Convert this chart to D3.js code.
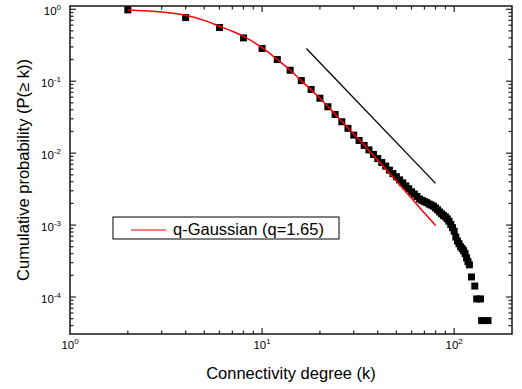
<!DOCTYPE html>
<html lang="en">

<head>
    <script src="https://d3js.org/d3.v7.min.js"></script>
    <style>
        body {
            margin: 0;
            background: white;
        }

        text {
            font-family: "Liberation Sans", Arial, sans-serif;
            fill: black;
        }
    </style>
</head>

<body>
    <svg id="chart" width="522" height="389"></svg>

    <script>
        // degree values and cumulative probabilities
        const kVals = [2, 4, 6, 8, 10, 12, 14, 16, 18, 20, 22, 24, 26, 28, 30, 32, 34, 36, 38, 40,
            42, 44, 46, 48, 50, 52, 54, 56, 58, 60, 62, 64, 66, 68, 70, 72, 74, 76, 78, 80,
            82, 84, 86, 88, 90, 92, 94, 96, 98, 100, 102, 104, 106, 108, 110, 112, 114, 116, 118, 120,
            123, 128, 131, 137, 139, 150];
        const pVals = [0.98, 0.767, 0.557, 0.40, 0.285, 0.20, 0.142, 0.102, 0.0767, 0.058,
            0.0441, 0.0345, 0.0273, 0.0221, 0.0178, 0.0150, 0.0128, 0.0111, 0.0096, 0.0084,
            0.0074, 0.0066, 0.0058, 0.0052, 0.0047, 0.00425, 0.00386, 0.0035, 0.0032, 0.0029,
            0.0027, 0.0025, 0.0023, 0.0022, 0.00212, 0.00205, 0.00196, 0.0019, 0.00183, 0.00173,
            0.00163, 0.00152, 0.00143, 0.00136, 0.0013, 0.00122, 0.00113, 0.00102, 0.00092, 0.00082,
            0.00068, 0.0006, 0.00055, 0.0005, 0.00047, 0.00044, 0.0004, 0.00035, 0.00031, 0.00028,
            0.00019, 0.000142, 0.000094, 0.000094, 0.000047, 0.000047];

        // q-Gaussian fit, sampled off the red curve
        const fitK = [2, 3, 4, 5, 6, 7, 8, 10, 12, 14, 16, 20, 25, 30, 35, 40, 50, 60, 70, 80];
        const fitP = [0.98, 0.917, 0.825, 0.70, 0.58, 0.495, 0.42, 0.293, 0.20, 0.142, 0.102,
            0.058, 0.031, 0.0185, 0.0119, 0.0080, 0.0041, 0.00236, 0.00147, 0.00099];

        // black guide line (power-law slope)
        const guideK = [17, 80];
        const guideP = [0.285, 0.0038];

        const xMajor = [1, 10, 100];
        const xExp = ["0", "1", "2"];
        const yMajor = [1e-4, 1e-3, 1e-2, 1e-1, 1];
        const yExp = ["-4", "-3", "-2", "-1", "0"];

        const svg = d3.select("svg#chart");
        const margins = { top: 6, right: 10, bottom: 55, left: 70 };
        const width = +svg.attr("width");
        const height = +svg.attr("height");
        const plotW = width - margins.left - margins.right;
        const plotH = height - margins.top - margins.bottom;

        const x = d3.scaleLog().domain([1, 200]).range([0, plotW]);
        const y = d3.scaleLog().domain([3.06e-5, 1.11]).range([plotH, 0]);

        const g = svg.append("g")
            .attr("transform", `translate(${margins.left},${margins.top})`);

        // minor tick values
        let xMinor = [];
        [1, 10, 100].forEach(d => {
            for (let i = 2; i <= 9; i++) {
                if (d * i < 200) xMinor.push(d * i);
            }
        });
        let yMinor = [];
        [1e-5, 1e-4, 1e-3, 1e-2, 1e-1].forEach(d => {
            for (let i = 2; i <= 9; i++) {
                if (d * i > 3.3e-5) yMinor.push(d * i);
            }
        });

        const majorLen = 6;
        const minorLen = 3.5;

        function drawTicks(sel, vals, len, side) {
            sel.selectAll(null)
                .data(vals)
                .join("line")
                .attr("x1", d => side == "bottom" || side == "top" ? x(d) : (side == "left" ? 0 : plotW))
                .attr("x2", d => side == "bottom" || side == "top" ? x(d) : (side == "left" ? len : plotW - len))
                .attr("y1", d => side == "left" || side == "right" ? y(d) : (side == "bottom" ? plotH : 0))
                .attr("y2", d => side == "left" || side == "right" ? y(d) : (side == "bottom" ? plotH - len : len))
                .attr("stroke", "#222")
                .attr("stroke-width", 1.2);
        }

        let ticks = g.append("g").attr("class", "ticks");
        ["bottom", "top"].forEach(s => {
            drawTicks(ticks, xMajor.filter(d => d > 1), majorLen, s);
            drawTicks(ticks, xMinor, minorLen, s);
        });
        ["left", "right"].forEach(s => {
            drawTicks(ticks, yMajor.filter(d => d < 1.05), majorLen, s);
            drawTicks(ticks, yMinor, minorLen, s);
        });

        // frame
        g.append("rect")
            .attr("x", 0)
            .attr("y", 0)
            .attr("width", plotW)
            .attr("height", plotH)
            .attr("fill", "none")
            .attr("stroke", "#222")
            .attr("stroke-width", 1.6);

        // tick labels
        xMajor.forEach((d, i) => {
            let t = g.append("text")
                .attr("x", x(d))
                .attr("y", plotH + 15)
                .attr("text-anchor", "middle")
                .style("font-size", "11.5px");
            t.append("tspan").text("10");
            t.append("tspan").attr("dy", -5).style("font-size", "8px").text(xExp[i]);
        });

        yMajor.forEach((d, i) => {
            let t = g.append("text")
                .attr("x", -9)
                .attr("y", y(d) + 6)
                .attr("text-anchor", "end")
                .style("font-size", "11.5px");
            t.append("tspan").text("10");
            t.append("tspan").attr("dy", -5).style("font-size", "8px").text(yExp[i]);
        });

        // axis titles
        g.append("text")
            .attr("x", plotW / 2)
            .attr("y", plotH + 45)
            .attr("text-anchor", "middle")
            .style("font-size", "16.5px")
            .text("Connectivity degree (k)");

        g.append("text")
            .attr("transform", `translate(${29 - margins.left},${plotH / 2}) rotate(-90)`)
            .attr("text-anchor", "middle")
            .style("font-size", "16.5px")
            .text("Cumulative probability (P(\u2265 k))");

        // data
        const pts = kVals.map((k, i) => ({ k: k, p: pVals[i] }));
        const sq = 7;
        g.selectAll("rect.point")
            .data(pts)
            .join("rect")
            .attr("class", "point")
            .attr("x", d => x(d.k) - sq / 2)
            .attr("y", d => y(d.p) - sq / 2)
            .attr("width", sq)
            .attr("height", sq)
            .attr("fill", "black");

        const line = d3.line()
            .x(d => x(d.k))
            .y(d => y(d.p));

        const fit = fitK.map((k, i) => ({ k: k, p: fitP[i] }));
        g.append("path")
            .datum(fit)
            .attr("d", line.curve(d3.curveMonotoneX))
            .attr("fill", "none")
            .attr("stroke", "#ff0000")
            .attr("stroke-width", 1.5);

        const guide = guideK.map((k, i) => ({ k: k, p: guideP[i] }));
        g.append("path")
            .datum(guide)
            .attr("d", d3.line().x(d => x(d.k)).y(d => y(d.p)))
            .attr("fill", "none")
            .attr("stroke", "black")
            .attr("stroke-width", 1.3);

        // legend
        let legend = svg.append("g").attr("transform", "translate(113,217)");
        legend.append("rect")
            .attr("x", 0)
            .attr("y", 0)
            .attr("width", 226)
            .attr("height", 22)
            .attr("fill", "white")
            .attr("stroke", "black")
            .attr("stroke-width", 1);
        legend.append("line")
            .attr("x1", 18)
            .attr("x2", 53)
            .attr("y1", 13)
            .attr("y2", 13)
            .attr("stroke", "#ff0000")
            .attr("stroke-width", 1.2);
        legend.append("text")
            .attr("x", 60)
            .attr("y", 17.5)
            .style("font-size", "16.5px")
            .text("q-Gaussian (q=1.65)");
    </script>

</body>

</html>
